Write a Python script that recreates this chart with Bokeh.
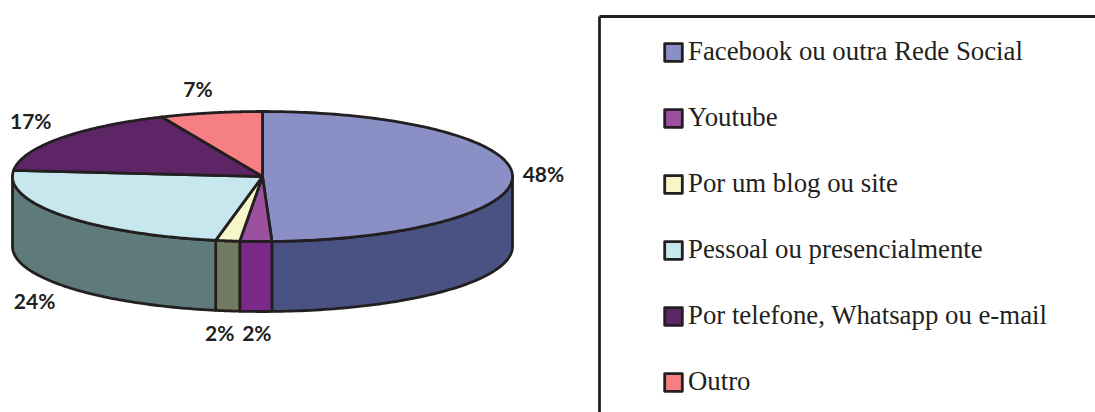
import numpy as np
from bokeh.embed import file_html
from bokeh.models import ColumnDataSource, Legend, LegendItem, Range1d
from bokeh.plotting import figure
from bokeh.resources import INLINE

categories = ["Facebook ou outra Rede Social", "Youtube", "Por um blog ou site",
              "Pessoal ou presencialmente", "Por telefone, Whatsapp ou e-mail", "Outro"]
shares = [49.4, 2.05, 1.55, 23.5, 16.9, 6.6]
labels = ["48%", "2%", "2%", "24%", "17%", "7%"]

# Style
top_colors = ["#8A8FC6", "#9B519F", "#F7F6C8", "#C6E7EE", "#5E2566", "#F57F82"]
side_colors = ["#4A5284", "#7B2A8A", "#737A62", "#5F7A7A", "#3E1A45", "#A85A5C"]
INK = "#231F20"
W, H = 1095, 412
RX, RY, DEPTH = 250, 65, 70
CX, CY = 262, 176   # page pixels of the pie centre
label_nudges = [(31, 2), (1, -91), (-8, -92), (-28, -85), (-29, 18), (-13, 24)]

p = figure(width=W, height=H, output_backend="svg", toolbar_location=None,
           x_range=Range1d(-CX, W - CX), y_range=Range1d(CY - H, CY),
           min_border=0, outline_line_color=None, background_fill_color="white")
p.axis.visible = False
p.grid.visible = False


def rim(t):
    return RX * np.sin(t), RY * np.cos(t)


edges = np.cumsum([0] + shares) / sum(shares) * 2 * np.pi

# Side walls, on the visible front half only
for i in range(len(shares)):
    a, b = max(edges[i], np.pi / 2), min(edges[i + 1], 3 * np.pi / 2)
    if a >= b:
        continue
    t = np.linspace(a, b, 80)
    x, y = rim(t)
    p.patch(np.r_[x, x[::-1]], np.r_[y, (y - DEPTH)[::-1]], fill_color=side_colors[i],
            line_color=INK, line_width=2.8, line_join="round")

# Top faces
xs, ys = [], []
for i in range(len(shares)):
    t = np.linspace(edges[i], edges[i + 1], 160)
    x, y = rim(t)
    xs.append(np.r_[0, x].tolist())
    ys.append(np.r_[0, y].tolist())
top = p.patches("xs", "ys", source=ColumnDataSource(dict(xs=xs, ys=ys, color=top_colors)),
                fill_color="color", line_color=INK, line_width=2.8, line_join="round")

# Percentage labels
mids = (edges[:-1] + edges[1:]) / 2
mx, my = rim(mids)
lx = [m + n[0] for m, n in zip(mx, label_nudges)]
ly = [m + n[1] for m, n in zip(my, label_nudges)]
p.text(lx, ly, text=labels, text_align="center", text_baseline="middle",
       text_font_size="21px", text_font_style="bold", text_color=INK,
       text_font={"value": "Lato"})

# Legend frame (open on the right and at the bottom)
fx, fy = 599 - CX, CY - 16
p.segment([fx, fx], [fy, fy], [W - CX, fx], [fy, CY - H], line_color=INK, line_width=2.8)

legend = Legend(items=[LegendItem(label=c, renderers=[top], index=i) for i, c in enumerate(categories)],
                location=(662, 15), orientation="vertical", margin=0, padding=0,
                spacing=35, glyph_width=22, glyph_height=22, label_standoff=4,
                label_text_font="Liberation Serif", label_text_font_size="26.8px",
                label_text_color=INK, label_height=30,
                background_fill_alpha=0, border_line_color=None)
p.add_layout(legend, "center")

open("out.html", "w").write(file_html(p, INLINE))
